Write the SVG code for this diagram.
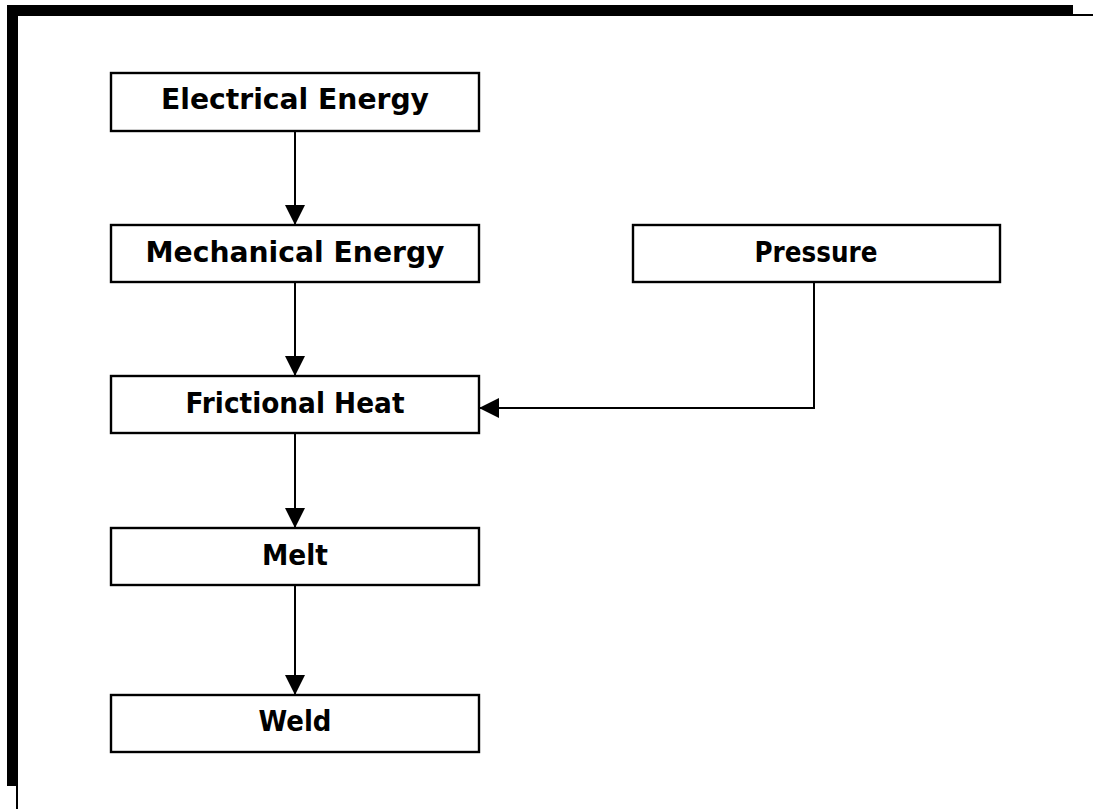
<svg xmlns="http://www.w3.org/2000/svg" width="1093" height="809" viewBox="0 0 1093 809">
<style>
.box{fill:#fff;stroke:#000;stroke-width:2.4}
.lbl{font-family:"DejaVu Sans",sans-serif;font-weight:bold;font-size:29px;fill:#000;text-anchor:middle}
.con{fill:none;stroke:#000;stroke-width:2}
</style>
<defs>
<marker id="ah" viewBox="0 0 20 20" refX="20" refY="10" markerWidth="20" markerHeight="20" markerUnits="userSpaceOnUse" orient="auto">
<path d="M0,0 L20,10 L0,20 Z" fill="#000"/>
</marker>
</defs>
<rect width="1093" height="809" fill="#fff"/>
<g id="frame">
<rect x="7" y="5" width="1066" height="11" fill="#000"/>
<rect x="7" y="5" width="11" height="781" fill="#000"/>
<line x1="1073" y1="15" x2="1093" y2="15" stroke="#000" stroke-width="2"/>
<line x1="17" y1="786" x2="17" y2="809" stroke="#000" stroke-width="2"/>
</g>
<g id="connectors">
<line class="con" x1="295" y1="131" x2="295" y2="225" marker-end="url(#ah)"/>
<line class="con" x1="295" y1="282" x2="295" y2="376" marker-end="url(#ah)"/>
<line class="con" x1="295" y1="433" x2="295" y2="528" marker-end="url(#ah)"/>
<line class="con" x1="295" y1="585" x2="295" y2="695" marker-end="url(#ah)"/>
<polyline class="con" points="814,282 814,408 479,408" marker-end="url(#ah)"/>
</g>
<g id="electrical">
<rect class="box" x="111" y="73" width="368" height="58"/>
<text class="lbl" x="295" y="108.5" textLength="268" lengthAdjust="spacingAndGlyphs">Electrical Energy</text>
</g>
<g id="mechanical">
<rect class="box" x="111" y="225" width="368" height="57"/>
<text class="lbl" x="295" y="261.5" textLength="299" lengthAdjust="spacingAndGlyphs">Mechanical Energy</text>
</g>
<g id="pressure">
<rect class="box" x="633" y="225" width="367" height="57"/>
<text class="lbl" x="816" y="262" textLength="123" lengthAdjust="spacingAndGlyphs">Pressure</text>
</g>
<g id="frictional">
<rect class="box" x="111" y="376" width="368" height="57"/>
<text class="lbl" x="295" y="413" textLength="219" lengthAdjust="spacingAndGlyphs">Frictional Heat</text>
</g>
<g id="melt">
<rect class="box" x="111" y="528" width="368" height="57"/>
<text class="lbl" x="295" y="565" textLength="66" lengthAdjust="spacingAndGlyphs">Melt</text>
</g>
<g id="weld">
<rect class="box" x="111" y="695" width="368" height="57"/>
<text class="lbl" x="295" y="731" textLength="73" lengthAdjust="spacingAndGlyphs">Weld</text>
</g>
</svg>
